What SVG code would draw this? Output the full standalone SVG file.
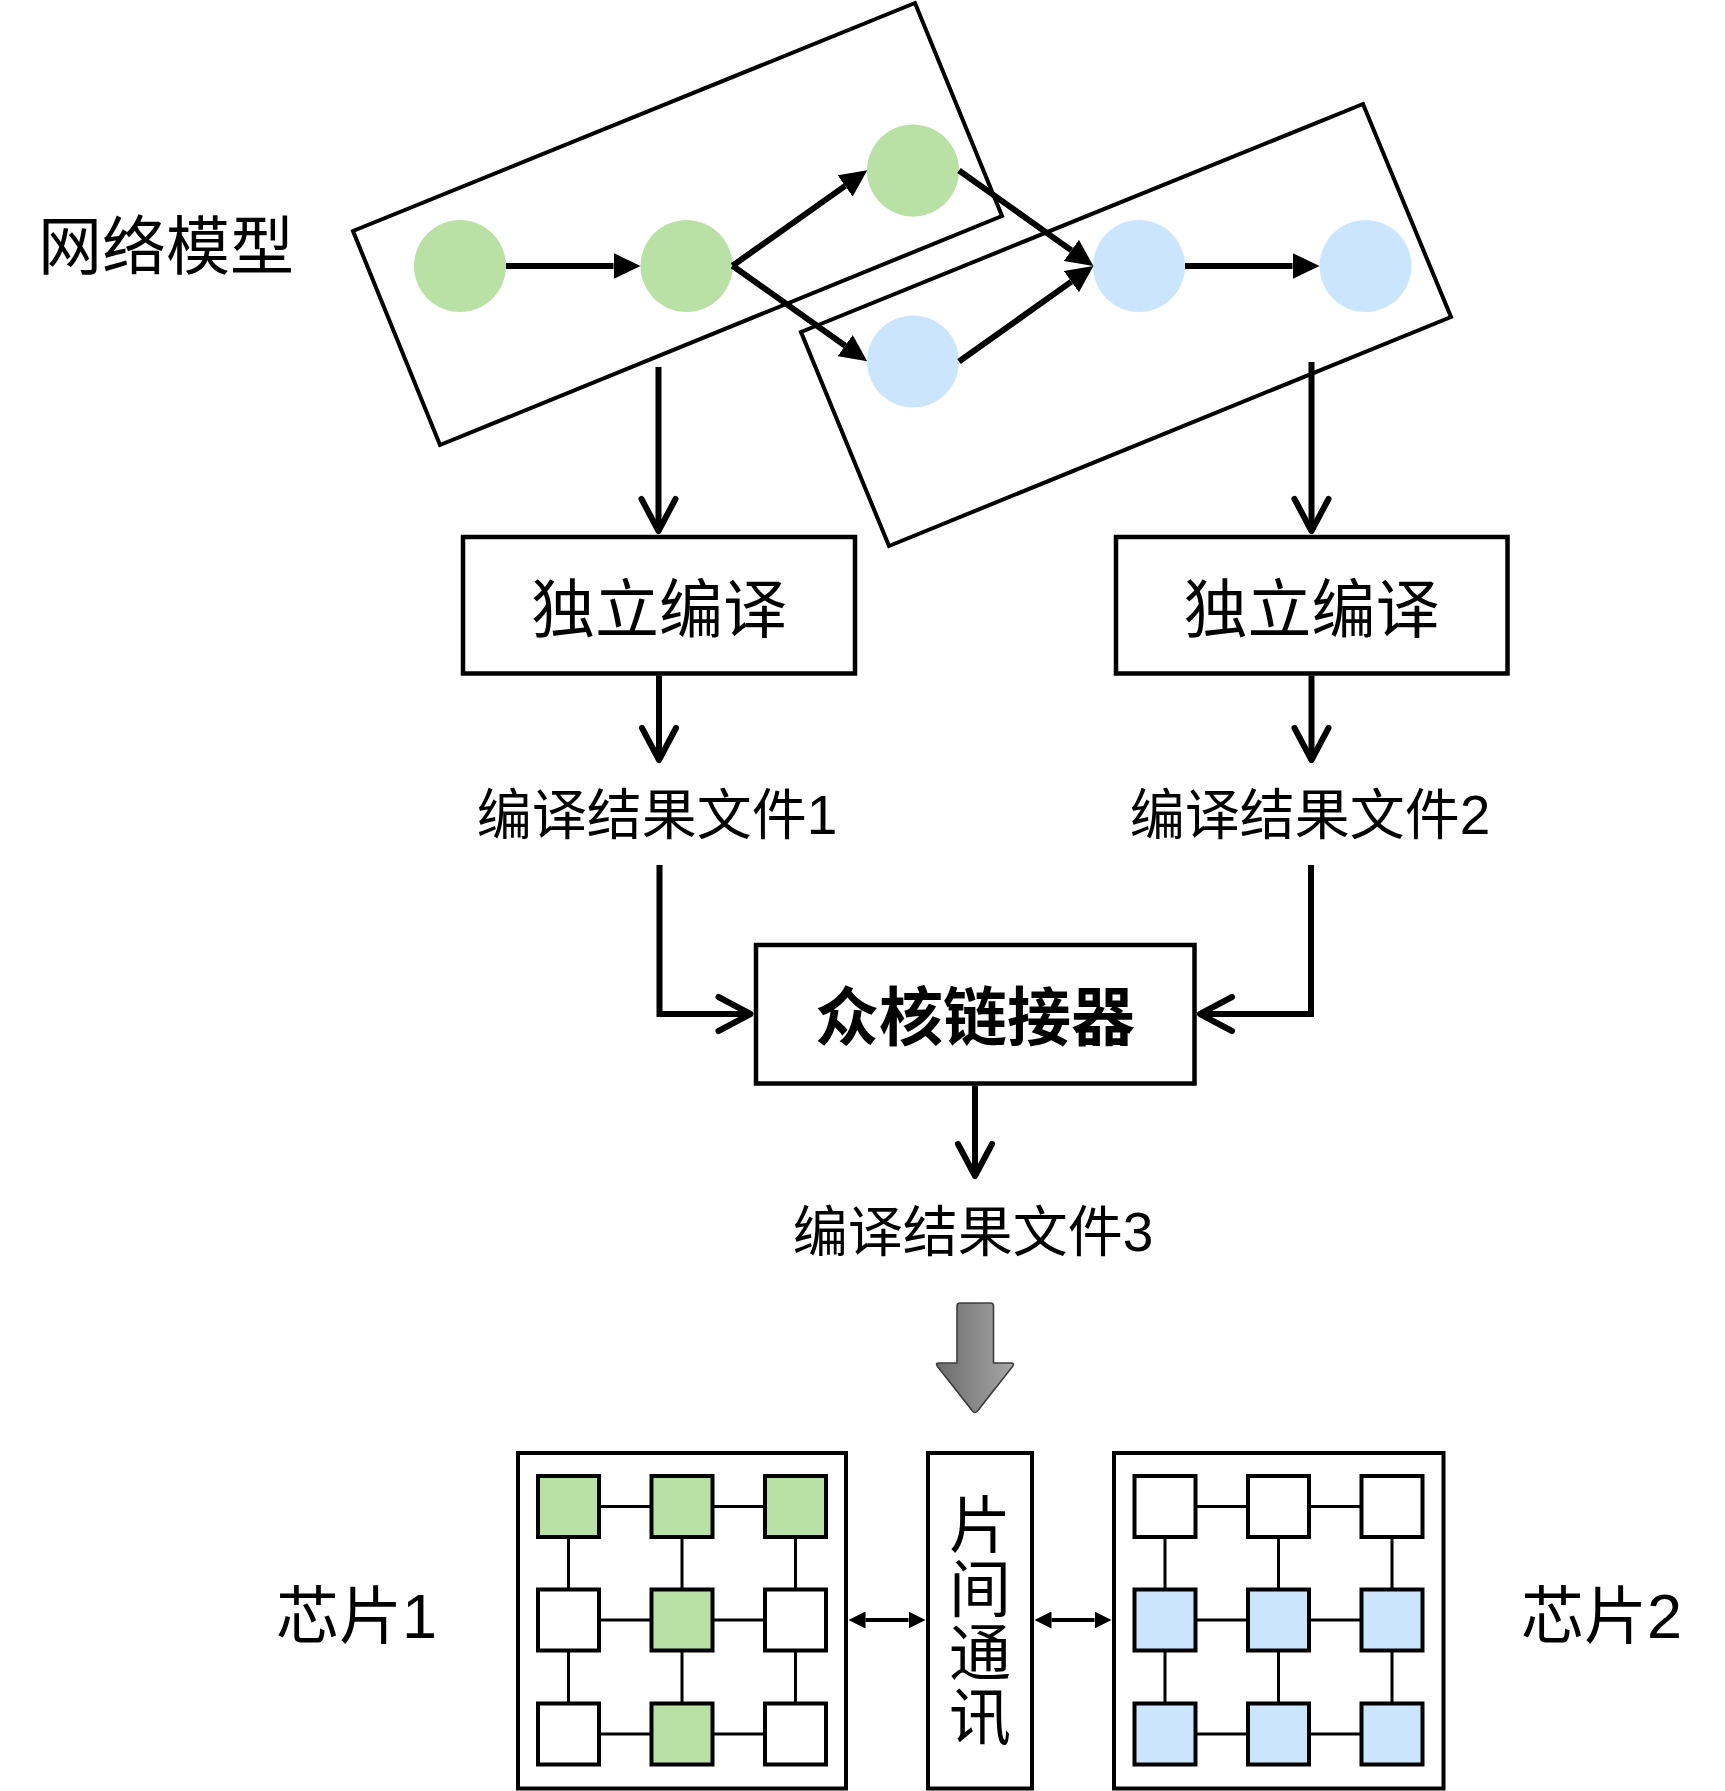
<svg xmlns="http://www.w3.org/2000/svg" width="1725" height="1791" viewBox="0 0 1725 1791">
<style>
.t{font-family:'Liberation Sans','Noto Sans CJK SC',sans-serif;fill:#000}
.par{fill:none;stroke:#000;stroke-width:4}
.box{fill:#fff;stroke:#000;stroke-width:4.5}
.ln{fill:none;stroke:#000;stroke-width:6}
.thin{fill:none;stroke:#000;stroke-width:4}
.mesh{stroke:#000;stroke-width:3}
.sq{stroke:#000;stroke-width:4}
.g{fill:#b9e0a5}
.b{fill:#cce5ff}
.w{fill:#fff}
</style>
<defs>
<marker id="blk" markerUnits="userSpaceOnUse" viewBox="0 0 27 26" markerWidth="27" markerHeight="26" refX="0" refY="13" orient="auto">
<path d="M0,0 L27,13 L0,26 z" fill="#000"/>
</marker>
<marker id="opn" markerUnits="userSpaceOnUse" viewBox="-40 -24 46 48" markerWidth="46" markerHeight="48" refX="0" refY="0" orient="auto" overflow="visible">
<path d="M-32,-17 L0,0 L-32,17" fill="none" stroke="#000" stroke-width="6" stroke-linecap="round" stroke-linejoin="round"/>
</marker>
<marker id="sm" markerUnits="userSpaceOnUse" viewBox="0 0 17 17" markerWidth="17" markerHeight="17" refX="0" refY="8.5" orient="auto-start-reverse">
<path d="M0,0 L17,8.5 L0,17 z" fill="#000"/>
</marker>
<linearGradient id="gg" x1="0" y1="0" x2="1" y2="0">
<stop offset="0" stop-color="#6c6c6c"/>
<stop offset="1" stop-color="#a6a6a6"/>
</linearGradient>
</defs>

<g id="label-network">
<text class="t" x="38" y="269" font-size="64">网络模型</text>
</g>

<g id="subgraph-1">
<polygon class="par" points="353,231 915,3 1002,216 440,445"/>
</g>
<g id="subgraph-2">
<polygon class="par" points="801,332 1363,104 1451,317 889,546"/>
</g>

<g id="n-g1"><circle class="g" cx="460" cy="266" r="46"/></g>
<g id="n-g2"><circle class="g" cx="686.5" cy="266" r="46"/></g>
<g id="n-g3"><circle class="g" cx="913" cy="170.5" r="46"/></g>
<g id="n-b1"><circle class="b" cx="913" cy="361.5" r="46"/></g>
<g id="n-b2"><circle class="b" cx="1139" cy="266" r="46"/></g>
<g id="n-b3"><circle class="b" cx="1365.5" cy="266" r="46"/></g>

<g id="compile-1">
<rect class="box" x="463" y="537" width="392" height="136.5"/>
<text class="t" x="659" y="632" font-size="64" text-anchor="middle">独立编译</text>
</g>
<g id="compile-2">
<rect class="box" x="1116" y="537" width="391.5" height="136.5"/>
<text class="t" x="1311.5" y="632" font-size="64" text-anchor="middle">独立编译</text>
</g>
<g id="result-1">
<text class="t" x="657" y="834" font-size="55" text-anchor="middle">编译结果文件1</text>
</g>
<g id="result-2">
<text class="t" x="1310" y="834" font-size="55" text-anchor="middle">编译结果文件2</text>
</g>
<g id="linker">
<rect class="box" x="756" y="945" width="438.5" height="138.5"/>
<text class="t" x="975" y="1040" font-size="64" font-weight="bold" text-anchor="middle">众核链接器</text>
</g>
<g id="result-3">
<text class="t" x="973" y="1251" font-size="55" text-anchor="middle">编译结果文件3</text>
</g>

<g id="deploy-arrow">
<path d="M957,1306 Q957,1303 960,1303 L990.5,1303 Q993.5,1303 993.5,1306 L993.5,1363 L1011,1363 Q1015,1363 1012.5,1366.5 L977.5,1411 Q975,1414 972.5,1411 L937.5,1366.5 Q935,1363 939,1363 L957,1363 Z" fill="url(#gg)" stroke="#3c3c3c" stroke-width="1.6" stroke-linejoin="round"/>
</g>

<g id="chip-1">
<rect class="thin" x="518" y="1453" width="328" height="335.5"/>
<g class="mesh">
<line x1="568.5" y1="1506.5" x2="795.5" y2="1506.5"/>
<line x1="568.5" y1="1620" x2="795.5" y2="1620"/>
<line x1="568.5" y1="1734" x2="795.5" y2="1734"/>
<line x1="568.5" y1="1506.5" x2="568.5" y2="1734"/>
<line x1="682" y1="1506.5" x2="682" y2="1734"/>
<line x1="795.5" y1="1506.5" x2="795.5" y2="1734"/>
</g>
<rect class="sq g" x="538" y="1476" width="61" height="61"/>
<rect class="sq g" x="651.5" y="1476" width="61" height="61"/>
<rect class="sq g" x="765" y="1476" width="61" height="61"/>
<rect class="sq w" x="538" y="1589.5" width="61" height="61"/>
<rect class="sq g" x="651.5" y="1589.5" width="61" height="61"/>
<rect class="sq w" x="765" y="1589.5" width="61" height="61"/>
<rect class="sq w" x="538" y="1703.5" width="61" height="61"/>
<rect class="sq g" x="651.5" y="1703.5" width="61" height="61"/>
<rect class="sq w" x="765" y="1703.5" width="61" height="61"/>
</g>

<g id="inter-chip">
<rect class="thin" x="928" y="1453" width="104" height="335.5"/>
<text class="t" x="980" y="1548" font-size="62" text-anchor="middle">片</text>
<text class="t" x="980" y="1612" font-size="62" text-anchor="middle">间</text>
<text class="t" x="980" y="1676" font-size="62" text-anchor="middle">通</text>
<text class="t" x="980" y="1740" font-size="62" text-anchor="middle">讯</text>
</g>

<g id="chip-2">
<rect class="thin" x="1114" y="1453" width="329.5" height="335.5"/>
<g class="mesh">
<line x1="1165" y1="1506.5" x2="1392" y2="1506.5"/>
<line x1="1165" y1="1620" x2="1392" y2="1620"/>
<line x1="1165" y1="1734" x2="1392" y2="1734"/>
<line x1="1165" y1="1506.5" x2="1165" y2="1734"/>
<line x1="1278.5" y1="1506.5" x2="1278.5" y2="1734"/>
<line x1="1392" y1="1506.5" x2="1392" y2="1734"/>
</g>
<rect class="sq w" x="1134.5" y="1476" width="61" height="61"/>
<rect class="sq w" x="1248" y="1476" width="61" height="61"/>
<rect class="sq w" x="1361.5" y="1476" width="61" height="61"/>
<rect class="sq b" x="1134.5" y="1589.5" width="61" height="61"/>
<rect class="sq b" x="1248" y="1589.5" width="61" height="61"/>
<rect class="sq b" x="1361.5" y="1589.5" width="61" height="61"/>
<rect class="sq b" x="1134.5" y="1703.5" width="61" height="61"/>
<rect class="sq b" x="1248" y="1703.5" width="61" height="61"/>
<rect class="sq b" x="1361.5" y="1703.5" width="61" height="61"/>
</g>

<g id="label-chip1"><text class="t" x="276" y="1638" font-size="63">芯片1</text></g>
<g id="label-chip2"><text class="t" x="1521" y="1638" font-size="63">芯片2</text></g>

<g id="connectors">
<path class="ln" d="M506,266 L613.5,266" marker-end="url(#blk)"/>
<path class="ln" d="M732.5,265.7 L845.2,185.9" marker-end="url(#blk)"/>
<path class="ln" d="M732.5,265.7 L845.2,345.7" marker-end="url(#blk)"/>
<path class="ln" d="M959,170.5 L1071.4,250.4" marker-end="url(#blk)"/>
<path class="ln" d="M959,361.5 L1071.4,281.6" marker-end="url(#blk)"/>
<path class="ln" d="M1185,266 L1292.5,266" marker-end="url(#blk)"/>
<path class="ln" d="M658.5,367 L658.5,531" marker-end="url(#opn)"/>
<path class="ln" d="M1311.5,362 L1311.5,531" marker-end="url(#opn)"/>
<path class="ln" d="M659,675.5 L659,760" marker-end="url(#opn)"/>
<path class="ln" d="M1311.5,675.5 L1311.5,760" marker-end="url(#opn)"/>
<path class="ln" d="M659.5,865 L659.5,1014 L750.5,1014" marker-end="url(#opn)"/>
<path class="ln" d="M1311,865 L1311,1014 L1200,1014" marker-end="url(#opn)"/>
<path class="ln" d="M975,1085.5 L975,1176" marker-end="url(#opn)"/>
<path class="thin" d="M865.5,1620 L908.5,1620" marker-start="url(#sm)" marker-end="url(#sm)"/>
<path class="thin" d="M1051.5,1620 L1094.5,1620" marker-start="url(#sm)" marker-end="url(#sm)"/>
</g>
</svg>
